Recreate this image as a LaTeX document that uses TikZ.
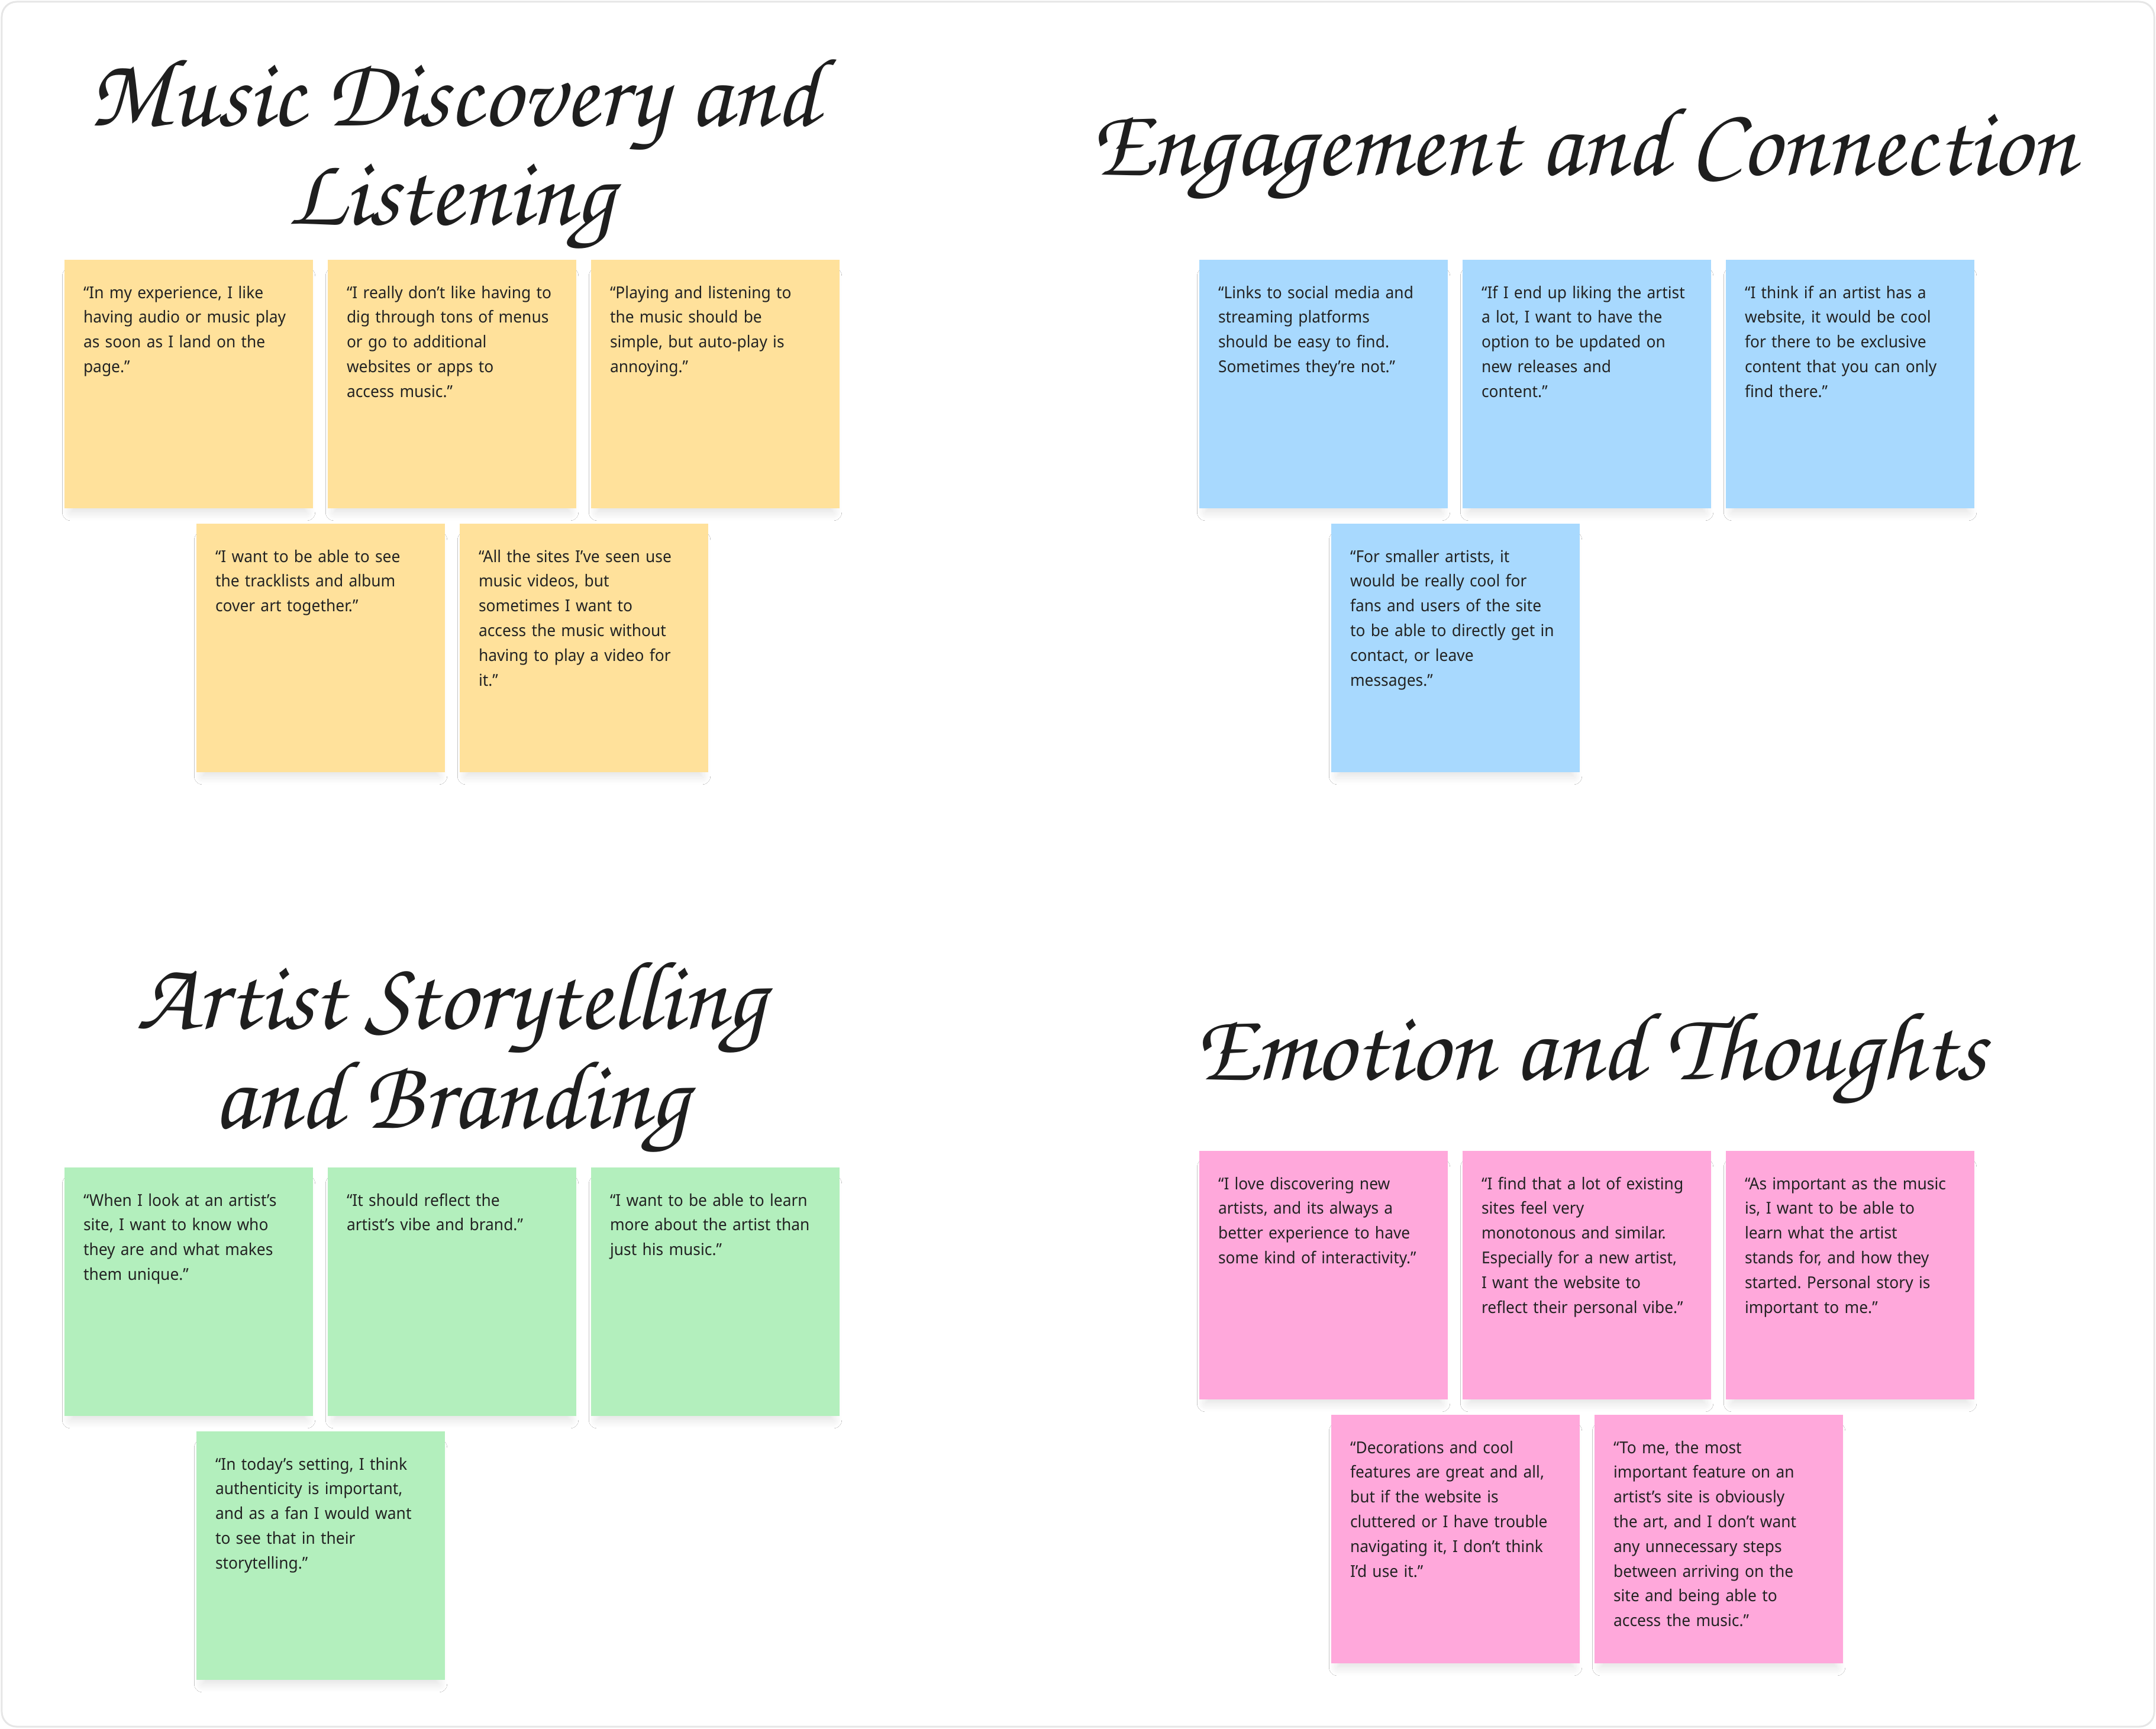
\documentclass[tikz,border=0pt]{standalone}
\usepackage{fontspec}
\setmainfont{Noto Sans}[FakeStretch=0.95]
\newfontfamily\handfont{TeX Gyre Chorus}
\usepackage{tikz}
\usepackage{xcolor}
\usetikzlibrary{positioning, shadows.blur}
\definecolor{Note_Yellow}{HTML}{FFE19B}
\definecolor{Note_Blue}{HTML}{A8D9FE}
\definecolor{Note_Green}{HTML}{B3EFBD}
\definecolor{Note_Pink}{HTML}{FFA8DB}
\definecolor{Note_Ink}{HTML}{232323}
\definecolor{Head_Ink}{HTML}{1E1E1E}
\definecolor{Frame_Gray}{HTML}{E6E6E6}
\frenchspacing

\tikzset{
    note/.style={rectangle, anchor=north west, outer sep=0pt,
        inner xsep=0.32cm, inner ysep=0.3cm, text width=3.56cm,
        text height=0.35cm, text depth=3.25cm, align=left,
        font=\fontsize{7.9}{11.9}\selectfont, text=Note_Ink,
        blur shadow={shadow xshift=0pt, shadow yshift=-0.18cm, shadow scale=0.95,
            shadow blur radius=0.15cm, shadow blur extra rounding=0pt,
            shadow blur steps=12, shadow opacity=12}},
    yellownote/.style={note, fill=Note_Yellow},
    bluenote/.style={note, fill=Note_Blue},
    greennote/.style={note, fill=Note_Green},
    pinknote/.style={note, fill=Note_Pink},
    heading/.style={anchor=base, inner sep=0pt, text=Head_Ink,
        font=\handfont\fontsize{47}{47}\selectfont}
}

\begin{document}
\begin{tikzpicture}
    \useasboundingbox (0,0) rectangle (36.44,-29.21);
    % Border box
    \draw[draw=Frame_Gray, line width=0.03cm, fill=white, rounded corners=0.25cm] (0.03,-0.03) rectangle (36.41,-29.18);

    % Music discovery and listening
    \node[heading] (musicA) at (7.67,-2.12) {Music Discovery and};
    \node[heading] (musicB) at (7.62,-3.79) {Listening};
    \node[yellownote] (m1) at (1.09,-4.39) {“In my experience, I like\\having audio or music play\\as soon as I land on the\\page.”};
    \node[yellownote, right=0.25cm of m1] (m2) {“I really don’t like having to\\dig through tons of menus\\or go to additional\\websites or apps to\\access music.”};
    \node[yellownote, right=0.25cm of m2] (m3) {“Playing and listening to\\the music should be\\simple, but auto-play is\\annoying.”};
    \node[yellownote, below=0.26cm of m1, xshift=2.23cm] (m4) {“I want to be able to see\\the tracklists and album\\cover art together.”};
    \node[yellownote, right=0.25cm of m4] (m5) {“All the sites I’ve seen use\\music videos, but\\sometimes I want to\\access the music without\\having to play a video for\\it.”};

    % Engagement and connection
    \node[heading] (engage) at (26.75,-2.95) {Engagement and Connection};
    \node[bluenote] (e1) at (20.27,-4.39) {“Links to social media and\\streaming platforms\\should be easy to find.\\Sometimes they’re not.”};
    \node[bluenote, right=0.25cm of e1] (e2) {“If I end up liking the artist\\a lot, I want to have the\\option to be updated on\\new releases and\\content.”};
    \node[bluenote, right=0.25cm of e2] (e3) {“I think if an artist has a\\website, it would be cool\\for there to be exclusive\\content that you can only\\find there.”};
    \node[bluenote, below=0.26cm of e1, xshift=2.23cm] (e4) {“For smaller artists, it\\would be really cool for\\fans and users of the site\\to be able to directly get in\\contact, or leave\\messages.”};

    % Artist storytelling and branding
    \node[heading] (artistA) at (7.62,-17.38) {Artist Storytelling};
    \node[heading] (artistB) at (7.62,-19.06) {and Branding};
    \node[greennote] (a1) at (1.09,-19.73) {“When I look at an artist’s\\site, I want to know who\\they are and what makes\\them unique.”};
    \node[greennote, right=0.25cm of a1] (a2) {“It should reflect the\\artist’s vibe and brand.”};
    \node[greennote, right=0.25cm of a2] (a3) {“I want to be able to learn\\more about the artist than\\just his music.”};
    \node[greennote, below=0.26cm of a1, xshift=2.23cm] (a4) {“In today’s setting, I think\\authenticity is important,\\and as a fan I would want\\to see that in their\\storytelling.”};

    % Emotion and thoughts
    \node[heading] (emotion) at (26.87,-18.24) {Emotion and Thoughts};
    \node[pinknote] (p1) at (20.27,-19.45) {“I love discovering new\\artists, and its always a\\better experience to have\\some kind of interactivity.”};
    \node[pinknote, right=0.25cm of p1] (p2) {“I find that a lot of existing\\sites feel very\\monotonous and similar.\\Especially for a new artist,\\I want the website to\\reflect their personal vibe.”};
    \node[pinknote, right=0.25cm of p2] (p3) {“As important as the music\\is, I want to be able to\\learn what the artist\\stands for, and how they\\started. Personal story is\\important to me.”};
    \node[pinknote, below=0.26cm of p1, xshift=2.23cm] (p4) {“Decorations and cool\\features are great and all,\\but if the website is\\cluttered or I have trouble\\navigating it, I don’t think\\I’d use it.”};
    \node[pinknote, right=0.25cm of p4] (p5) {“To me, the most\\important feature on an\\artist’s site is obviously\\the art, and I don’t want\\any unnecessary steps\\between arriving on the\\site and being able to\\access the music.”};
\end{tikzpicture}
\end{document}
